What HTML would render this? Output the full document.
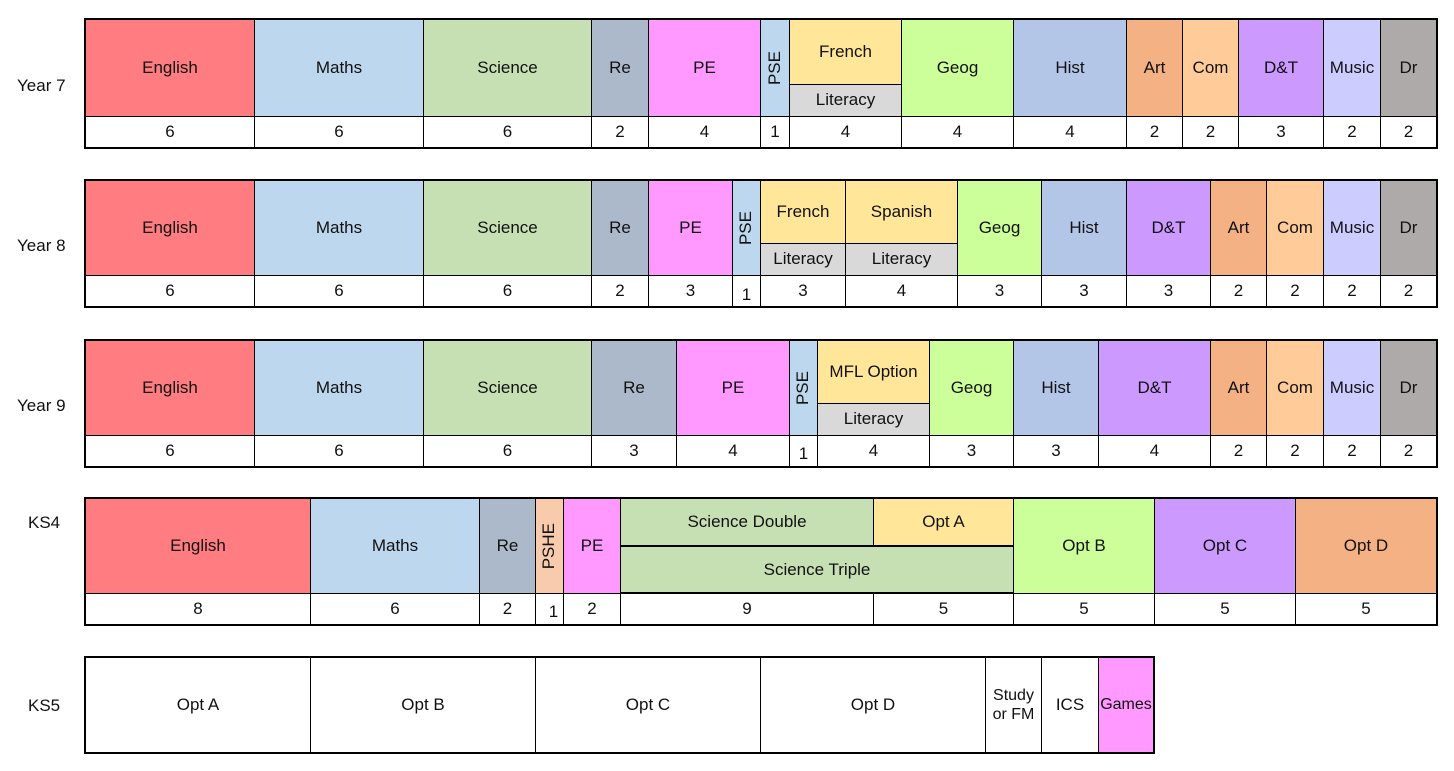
<!DOCTYPE html>
<html><head><meta charset="utf-8"><style>
body{margin:0;width:1454px;height:771px;background:#fff;position:relative;overflow:hidden;font-family:"Liberation Sans",Arial,sans-serif;font-size:17px;color:#111}
.c{position:absolute;box-sizing:border-box;border:1px solid #000;display:flex;align-items:center;justify-content:center;text-align:center;line-height:1.2}
.o{position:absolute;box-sizing:border-box;border:2px solid #000}
.l{position:absolute;font-size:17px}
.v{writing-mode:vertical-rl;transform:rotate(180deg)}
</style></head><body>
<div class="l" style="left:17px;top:76px">Year 7</div>
<div class="l" style="left:17px;top:236px">Year 8</div>
<div class="l" style="left:17px;top:396px">Year 9</div>
<div class="l" style="left:28px;top:513px">KS4</div>
<div class="l" style="left:28px;top:696px">KS5</div>

<!-- Year 7 -->
<div class="c" style="left:85px;top:19px;width:170px;height:98px;background:#ff7c80">English</div>
<div class="c" style="left:254px;top:19px;width:170px;height:98px;background:#bdd7ee">Maths</div>
<div class="c" style="left:423px;top:19px;width:169px;height:98px;background:#c6e0b4">Science</div>
<div class="c" style="left:591px;top:19px;width:58px;height:98px;background:#acb9ca">Re</div>
<div class="c" style="left:648px;top:19px;width:113px;height:98px;background:#ff99ff">PE</div>
<div class="c" style="left:760px;top:19px;width:30px;height:98px;background:#bdd7ee"><span class="v">PSE</span></div>
<div class="c" style="left:789px;top:19px;width:113px;height:66px;background:#ffe699">French</div>
<div class="c" style="left:789px;top:84px;width:113px;height:33px;background:#d9d9d9">Literacy</div>
<div class="c" style="left:901px;top:19px;width:113px;height:98px;background:#ccff99">Geog</div>
<div class="c" style="left:1013px;top:19px;width:114px;height:98px;background:#b4c6e7">Hist</div>
<div class="c" style="left:1126px;top:19px;width:57px;height:98px;background:#f4b183">Art</div>
<div class="c" style="left:1182px;top:19px;width:57px;height:98px;background:#ffcc99">Com</div>
<div class="c" style="left:1238px;top:19px;width:86px;height:98px;background:#cc99ff">D&amp;T</div>
<div class="c" style="left:1323px;top:19px;width:58px;height:98px;background:#ccccff">Music</div>
<div class="c" style="left:1380px;top:19px;width:57px;height:98px;background:#aeaaaa">Dr</div>
<div class="c" style="left:85px;top:116px;width:170px;height:32px">6</div>
<div class="c" style="left:254px;top:116px;width:170px;height:32px">6</div>
<div class="c" style="left:423px;top:116px;width:169px;height:32px">6</div>
<div class="c" style="left:591px;top:116px;width:58px;height:32px">2</div>
<div class="c" style="left:648px;top:116px;width:113px;height:32px">4</div>
<div class="c" style="left:760px;top:116px;width:30px;height:32px">1</div>
<div class="c" style="left:789px;top:116px;width:113px;height:32px">4</div>
<div class="c" style="left:901px;top:116px;width:113px;height:32px">4</div>
<div class="c" style="left:1013px;top:116px;width:114px;height:32px">4</div>
<div class="c" style="left:1126px;top:116px;width:57px;height:32px">2</div>
<div class="c" style="left:1182px;top:116px;width:57px;height:32px">2</div>
<div class="c" style="left:1238px;top:116px;width:86px;height:32px">3</div>
<div class="c" style="left:1323px;top:116px;width:58px;height:32px">2</div>
<div class="c" style="left:1380px;top:116px;width:57px;height:32px">2</div>
<div class="o" style="left:84px;top:18px;width:1354px;height:131px"></div>

<!-- Year 8 -->
<div class="c" style="left:85px;top:180px;width:170px;height:96px;background:#ff7c80">English</div>
<div class="c" style="left:254px;top:180px;width:170px;height:96px;background:#bdd7ee">Maths</div>
<div class="c" style="left:423px;top:180px;width:169px;height:96px;background:#c6e0b4">Science</div>
<div class="c" style="left:591px;top:180px;width:58px;height:96px;background:#acb9ca">Re</div>
<div class="c" style="left:648px;top:180px;width:85px;height:96px;background:#ff99ff">PE</div>
<div class="c" style="left:732px;top:180px;width:29px;height:96px;background:#bdd7ee"><span class="v">PSE</span></div>
<div class="c" style="left:760px;top:180px;width:86px;height:64px;background:#ffe699">French</div>
<div class="c" style="left:760px;top:243px;width:86px;height:33px;background:#d9d9d9">Literacy</div>
<div class="c" style="left:845px;top:180px;width:113px;height:64px;background:#ffe699">Spanish</div>
<div class="c" style="left:845px;top:243px;width:113px;height:33px;background:#d9d9d9">Literacy</div>
<div class="c" style="left:957px;top:180px;width:85px;height:96px;background:#ccff99">Geog</div>
<div class="c" style="left:1041px;top:180px;width:86px;height:96px;background:#b4c6e7">Hist</div>
<div class="c" style="left:1126px;top:180px;width:85px;height:96px;background:#cc99ff">D&amp;T</div>
<div class="c" style="left:1210px;top:180px;width:57px;height:96px;background:#f4b183">Art</div>
<div class="c" style="left:1266px;top:180px;width:58px;height:96px;background:#ffcc99">Com</div>
<div class="c" style="left:1323px;top:180px;width:58px;height:96px;background:#ccccff">Music</div>
<div class="c" style="left:1380px;top:180px;width:57px;height:96px;background:#aeaaaa">Dr</div>
<div class="c" style="left:85px;top:275px;width:170px;height:32px">6</div>
<div class="c" style="left:254px;top:275px;width:170px;height:32px">6</div>
<div class="c" style="left:423px;top:275px;width:169px;height:32px">6</div>
<div class="c" style="left:591px;top:275px;width:58px;height:32px">2</div>
<div class="c" style="left:648px;top:275px;width:85px;height:32px">3</div>
<div class="c" style="left:732px;top:275px;width:29px;height:32px;padding-top:8px">1</div>
<div class="c" style="left:760px;top:275px;width:86px;height:32px">3</div>
<div class="c" style="left:845px;top:275px;width:113px;height:32px">4</div>
<div class="c" style="left:957px;top:275px;width:85px;height:32px">3</div>
<div class="c" style="left:1041px;top:275px;width:86px;height:32px">3</div>
<div class="c" style="left:1126px;top:275px;width:85px;height:32px">3</div>
<div class="c" style="left:1210px;top:275px;width:57px;height:32px">2</div>
<div class="c" style="left:1266px;top:275px;width:58px;height:32px">2</div>
<div class="c" style="left:1323px;top:275px;width:58px;height:32px">2</div>
<div class="c" style="left:1380px;top:275px;width:57px;height:32px">2</div>
<div class="o" style="left:84px;top:179px;width:1354px;height:129px"></div>

<!-- Year 9 -->
<div class="c" style="left:85px;top:340px;width:170px;height:96px;background:#ff7c80">English</div>
<div class="c" style="left:254px;top:340px;width:170px;height:96px;background:#bdd7ee">Maths</div>
<div class="c" style="left:423px;top:340px;width:169px;height:96px;background:#c6e0b4">Science</div>
<div class="c" style="left:591px;top:340px;width:86px;height:96px;background:#acb9ca">Re</div>
<div class="c" style="left:676px;top:340px;width:114px;height:96px;background:#ff99ff">PE</div>
<div class="c" style="left:789px;top:340px;width:29px;height:96px;background:#bdd7ee"><span class="v">PSE</span></div>
<div class="c" style="left:817px;top:340px;width:113px;height:64px;background:#ffe699">MFL Option</div>
<div class="c" style="left:817px;top:403px;width:113px;height:33px;background:#d9d9d9">Literacy</div>
<div class="c" style="left:929px;top:340px;width:85px;height:96px;background:#ccff99">Geog</div>
<div class="c" style="left:1013px;top:340px;width:86px;height:96px;background:#b4c6e7">Hist</div>
<div class="c" style="left:1098px;top:340px;width:113px;height:96px;background:#cc99ff">D&amp;T</div>
<div class="c" style="left:1210px;top:340px;width:57px;height:96px;background:#f4b183">Art</div>
<div class="c" style="left:1266px;top:340px;width:58px;height:96px;background:#ffcc99">Com</div>
<div class="c" style="left:1323px;top:340px;width:58px;height:96px;background:#ccccff">Music</div>
<div class="c" style="left:1380px;top:340px;width:57px;height:96px;background:#aeaaaa">Dr</div>
<div class="c" style="left:85px;top:435px;width:170px;height:32px">6</div>
<div class="c" style="left:254px;top:435px;width:170px;height:32px">6</div>
<div class="c" style="left:423px;top:435px;width:169px;height:32px">6</div>
<div class="c" style="left:591px;top:435px;width:86px;height:32px">3</div>
<div class="c" style="left:676px;top:435px;width:114px;height:32px">4</div>
<div class="c" style="left:789px;top:435px;width:29px;height:32px;padding-top:6px">1</div>
<div class="c" style="left:817px;top:435px;width:113px;height:32px">4</div>
<div class="c" style="left:929px;top:435px;width:85px;height:32px">3</div>
<div class="c" style="left:1013px;top:435px;width:86px;height:32px">3</div>
<div class="c" style="left:1098px;top:435px;width:113px;height:32px">4</div>
<div class="c" style="left:1210px;top:435px;width:57px;height:32px">2</div>
<div class="c" style="left:1266px;top:435px;width:58px;height:32px">2</div>
<div class="c" style="left:1323px;top:435px;width:58px;height:32px">2</div>
<div class="c" style="left:1380px;top:435px;width:57px;height:32px">2</div>
<div class="o" style="left:84px;top:339px;width:1354px;height:129px"></div>

<!-- KS4 -->
<div class="c" style="left:85px;top:498px;width:226px;height:96px;background:#ff7c80">English</div>
<div class="c" style="left:310px;top:498px;width:170px;height:96px;background:#bdd7ee">Maths</div>
<div class="c" style="left:479px;top:498px;width:57px;height:96px;background:#acb9ca">Re</div>
<div class="c" style="left:535px;top:498px;width:29px;height:96px;background:#f8cbad"><span class="v">PSHE</span></div>
<div class="c" style="left:563px;top:498px;width:58px;height:96px;background:#ff99ff">PE</div>
<div class="c" style="left:620px;top:498px;width:254px;height:49px;background:#c6e0b4">Science Double</div>
<div class="c" style="left:873px;top:498px;width:141px;height:49px;background:#ffe699">Opt A</div>
<div class="c" style="left:620px;top:545px;width:394px;height:49px;background:#c6e0b4;border-top:2px solid #000">Science Triple</div>
<div class="c" style="left:1013px;top:498px;width:142px;height:96px;background:#ccff99">Opt B</div>
<div class="c" style="left:1154px;top:498px;width:142px;height:96px;background:#cc99ff">Opt C</div>
<div class="c" style="left:1295px;top:498px;width:142px;height:96px;background:#f4b183">Opt D</div>
<div class="c" style="left:85px;top:593px;width:226px;height:32px">8</div>
<div class="c" style="left:310px;top:593px;width:170px;height:32px">6</div>
<div class="c" style="left:479px;top:593px;width:57px;height:32px">2</div>
<div class="c" style="left:535px;top:593px;width:29px;height:32px;padding-top:6px;padding-left:8px">1</div>
<div class="c" style="left:563px;top:593px;width:58px;height:32px">2</div>
<div class="c" style="left:620px;top:593px;width:254px;height:32px">9</div>
<div class="c" style="left:873px;top:593px;width:141px;height:32px">5</div>
<div class="c" style="left:1013px;top:593px;width:142px;height:32px">5</div>
<div class="c" style="left:1154px;top:593px;width:142px;height:32px">5</div>
<div class="c" style="left:1295px;top:593px;width:142px;height:32px">5</div>
<div class="o" style="left:84px;top:497px;width:1354px;height:129px"></div>
<div style="position:absolute;left:620px;top:592px;width:394px;height:2px;background:#000"></div>

<!-- KS5 -->
<div class="c" style="left:85px;top:657px;width:226px;height:96px">Opt A</div>
<div class="c" style="left:310px;top:657px;width:226px;height:96px">Opt B</div>
<div class="c" style="left:535px;top:657px;width:226px;height:96px">Opt C</div>
<div class="c" style="left:760px;top:657px;width:226px;height:96px">Opt D</div>
<div class="c" style="left:985px;top:657px;width:57px;height:96px;font-size:16px">Study<br>or FM</div>
<div class="c" style="left:1041px;top:657px;width:58px;height:96px">ICS</div>
<div class="c" style="left:1098px;top:657px;width:56px;height:96px;background:#ff99ff;font-size:16px">Games</div>
<div class="o" style="left:84px;top:656px;width:1071px;height:98px"></div>
</body></html>
